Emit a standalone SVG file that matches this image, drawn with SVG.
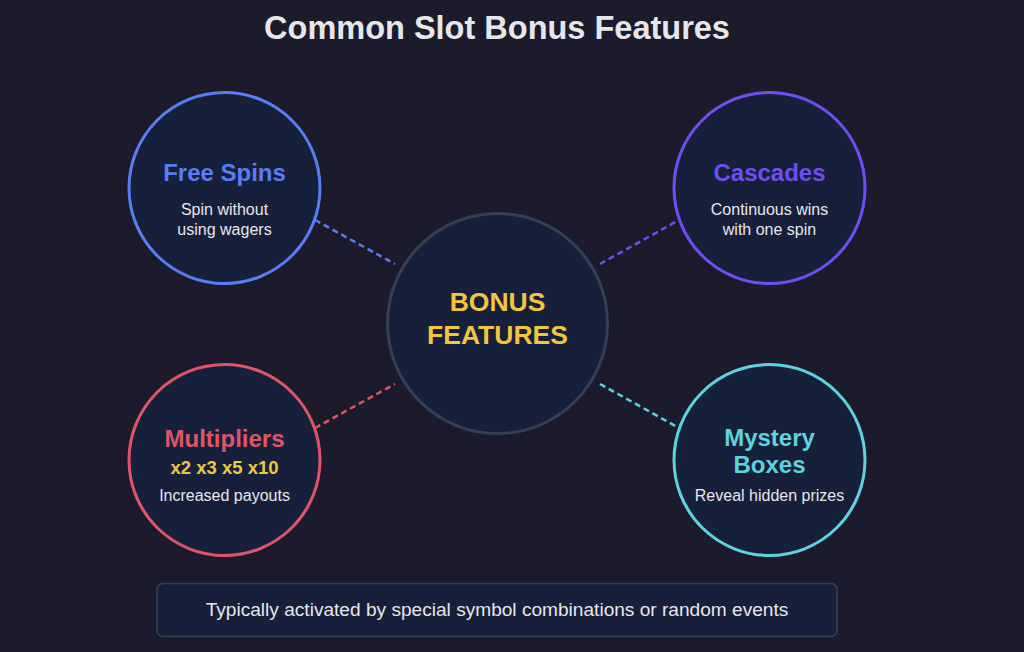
<svg xmlns="http://www.w3.org/2000/svg" width="1024" height="652" viewBox="0 0 1024 652">
<style>
text{font-family:"Liberation Sans",Arial,Helvetica,sans-serif;text-anchor:middle}
.title{font-size:32.5px;font-weight:bold;fill:#e6e7ea}
.node{fill:#17203a;stroke-width:3}
.head{font-size:24px;font-weight:bold}
.desc{font-size:16px;fill:#e6e7ea}
.conn{stroke-width:2.5;stroke-dasharray:6 4;fill:none}
</style>
<rect width="1024" height="652" fill="#1b1b2b"/>
<text class="title" x="497" y="39">Common Slot Bonus Features</text>
<g id="connectors">
<line class="conn" x1="315" y1="220" x2="395" y2="264" stroke="#5a7cf4"/>
<line class="conn" x1="600" y1="264" x2="679" y2="220" stroke="#6c4ff2"/>
<line class="conn" x1="315" y1="428" x2="395" y2="384" stroke="#e05468"/>
<line class="conn" x1="600" y1="384" x2="679" y2="428" stroke="#5ed3df"/>
</g>
<g id="center">
<circle class="node" cx="497.5" cy="323.5" r="110" stroke="#334155" stroke-width="3.5"/>
<text x="497.5" y="311" font-size="26.5" font-weight="bold" fill="#f1c540">BONUS</text>
<text x="497.5" y="344" font-size="26.5" font-weight="bold" fill="#f1c540">FEATURES</text>
</g>
<g id="free-spins">
<circle class="node" cx="224.5" cy="188" r="95.5" stroke="#5a7cf4"/>
<text class="head" x="224.5" y="181" fill="#5a7cf4">Free Spins</text>
<text class="desc" x="224.5" y="215">Spin without</text>
<text class="desc" x="224.5" y="235">using wagers</text>
</g>
<g id="cascades">
<circle class="node" cx="769.5" cy="188" r="95.5" stroke="#6c4ff2"/>
<text class="head" x="769.5" y="181" fill="#6c4ff2">Cascades</text>
<text class="desc" x="769.5" y="215">Continuous wins</text>
<text class="desc" x="769.5" y="235">with one spin</text>
</g>
<g id="multipliers">
<circle class="node" cx="224.5" cy="460" r="95.5" stroke="#e05468"/>
<text class="head" x="224.5" y="447" fill="#e05468">Multipliers</text>
<text x="224.5" y="474" font-size="18.5" font-weight="bold" fill="#f1c540">x2 x3 x5 x10</text>
<text class="desc" x="224.5" y="501">Increased payouts</text>
</g>
<g id="mystery-boxes">
<circle class="node" cx="769.5" cy="460" r="95.5" stroke="#5ed3df"/>
<text class="head" x="769.5" y="446" fill="#5ed3df">Mystery</text>
<text class="head" x="769.5" y="473" fill="#5ed3df">Boxes</text>
<text class="desc" x="769.5" y="501">Reveal hidden prizes</text>
</g>
<g id="footer">
<rect x="157" y="583.5" width="680" height="53" rx="6" fill="#17203a" stroke="#334155" stroke-width="1.5"/>
<text x="497" y="616" font-size="19.1" fill="#e6e7ea">Typically activated by special symbol combinations or random events</text>
</g>
</svg>
